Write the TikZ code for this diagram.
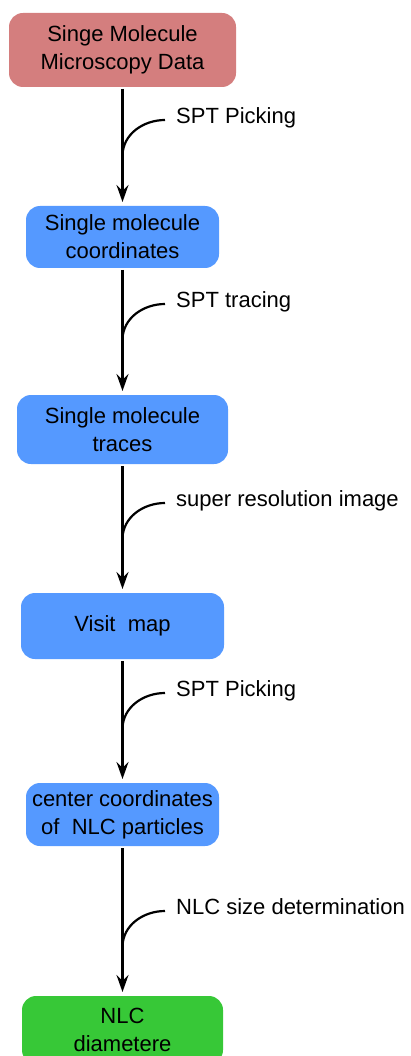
\documentclass[tikz,border=0pt]{standalone}
\usepackage{fontspec}
\setmainfont{Liberation Sans}
\usetikzlibrary{arrows.meta,calc}
\definecolor{boxred}{RGB}{212,126,126}
\definecolor{boxblue}{RGB}{85,153,255}
\definecolor{boxgreen}{RGB}{55,200,55}
\begin{document}
\begin{tikzpicture}[x=1pt,y=1pt,
  font=\fontsize{22}{28}\selectfont,
  box/.style={rounded corners=14pt, align=center, inner sep=0pt, outer sep=0pt},
  flow/.style={line width=2.2pt, -{Stealth[length=17pt,width=12pt,inset=6pt]}, shorten <=2pt, shorten >=4pt},
  lab/.style={anchor=west, inner sep=0pt, text height=0.85em, text depth=0.21em},
  hook/.style={line width=2.2pt}]
\useasboundingbox (0,0) rectangle (410,-1056);
\clip (0,0) rectangle (410,-1056);

\node[box, fill=boxred, minimum width=227pt, minimum height=74pt] (n1) at (122.5,-50) {Singe Molecule\\Microscopy Data};
\node[box, fill=boxblue, minimum width=193pt, minimum height=62pt] (n2) at (122.5,-237) {Single molecule\\coordinates};
\node[box, fill=boxblue, minimum width=211pt, minimum height=69pt] (n3) at (122.5,-429.5) {Single molecule\\traces};
\node[box, fill=boxblue, minimum width=203pt, minimum height=66pt] (n4) at (122.5,-626) {Visit\ \ map};
\node[box, fill=boxblue, minimum width=193pt, minimum height=63pt] (n5) at (122.5,-814.5) {center coordinates\\of\ \ NLC particles};
\node[box, fill=boxgreen, minimum width=201pt, minimum height=68pt] (n6) at (122.5,-1030) {NLC\\diametere};

\node[lab] (l1) at (176,-120) {SPT Picking};
\node[lab] (l2) at (176,-304) {SPT tracing};
\node[lab] (l3) at (176,-503) {super resolution image};
\node[lab] (l4) at (176,-693) {SPT Picking};
\node[lab] (l5) at (176,-911) {NLC size determination};

\coordinate (j1) at (122.5,-156);
\coordinate (j2) at (122.5,-340);
\coordinate (j3) at (122.5,-539);
\coordinate (j4) at (122.5,-729);
\coordinate (j5) at (122.5,-947);

\draw[flow] (n1.south) -- (n2.north);
\draw[flow] (n2.south) -- (n3.north);
\draw[flow] (n3.south) -- (n4.north);
\draw[flow] (n4.south) -- (n5.north);
\draw[flow] (n5.south) -- (n6.north);

\draw[hook] ([xshift=-11pt]l1.west) to[out=180,in=90] (j1);
\draw[hook] ([xshift=-11pt]l2.west) to[out=180,in=90] (j2);
\draw[hook] ([xshift=-11pt]l3.west) to[out=180,in=90] (j3);
\draw[hook] ([xshift=-11pt]l4.west) to[out=180,in=90] (j4);
\draw[hook] ([xshift=-11pt]l5.west) to[out=180,in=90] (j5);
\end{tikzpicture}
\end{document}
